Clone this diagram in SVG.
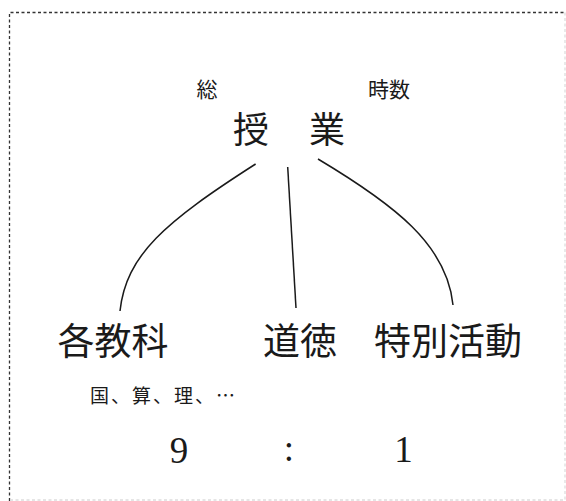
<svg xmlns="http://www.w3.org/2000/svg" width="566" height="501" viewBox="0 0 566 501">
<style>
.jp{font-family:"Noto Sans CJK JP","Noto Sans CJK SC",sans-serif;fill:#1a1a1a;text-anchor:middle}
.num{font-family:"Liberation Serif",serif;fill:#1a1a1a;text-anchor:middle}
.edge{fill:none;stroke:#1a1a1a;stroke-width:1.5}
.frame{fill:none;stroke-width:1.3;stroke-dasharray:3 2.5}
</style>
<rect width="566" height="501" fill="#ffffff"/>
<g id="frame">
<path class="frame" stroke="#333" d="M9.5,501 V12.5 H565"/>
<path class="frame" stroke="#ddd" d="M565,12.5 V500 H9.5"/>
</g>
<g id="node-jugyo">
<text class="jp" x="207" y="96.5" font-size="21">総</text>
<text class="jp" x="389" y="96.5" font-size="21">時数</text>
<text class="jp" x="251" y="142.5" font-size="36">授</text>
<text class="jp" x="327" y="142.5" font-size="36">業</text>
</g>
<g id="node-kakukyouka">
<text class="jp" x="113" y="355" font-size="37">各教科</text>
<text class="jp" x="90" y="403" font-size="19" letter-spacing="2" style="text-anchor:start">国、算、理、…</text>
</g>
<g id="node-doutoku">
<text class="jp" x="300" y="355" font-size="37">道徳</text>
</g>
<g id="node-tokkatsu">
<text class="jp" x="448" y="355" font-size="37">特別活動</text>
</g>
<g id="ratio">
<text class="num" x="179" y="463" font-size="37">9</text>
<text class="num" x="289" y="461" font-size="37">:</text>
<text class="num" x="403.5" y="462" font-size="37">1</text>
</g>
<g id="connectors">
<path class="edge" d="M255.6,164 C165,222 126,255 120,311"/>
<path class="edge" d="M287.7,167 L296,308"/>
<path class="edge" d="M318,159 C395,205 447,245 453,305"/>
</g>
</svg>
